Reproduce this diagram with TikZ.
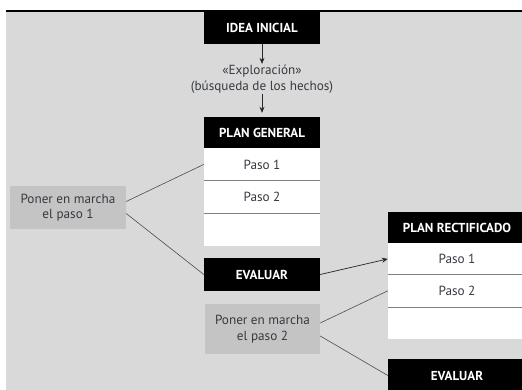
\documentclass[tikz,border=0pt]{standalone}
\usepackage{fontspec}
\setmainfont{PT Sans}
\usetikzlibrary{positioning, arrows.meta}
\definecolor{bgcolor}{HTML}{D9D9D9}
\definecolor{actcolor}{HTML}{C4C4C4}
\definecolor{txtcolor}{HTML}{353A40}
\definecolor{sepcolor}{HTML}{808080}

\begin{document}
\begin{tikzpicture}[
    x=1pt, y=-1pt,
    align=center,
    font=\fontsize{13.2}{15.5}\selectfont,
    header/.style={fill=black, text=white, font=\fontsize{13}{16}\selectfont\bfseries, minimum width=116pt, minimum height=32pt, inner sep=0pt},
    row/.style={fill=white, text=txtcolor, minimum width=116pt, minimum height=32pt, inner sep=0pt},
    action/.style={fill=actcolor, text=txtcolor, minimum width=116pt, minimum height=43pt, inner sep=0pt},
    arrow/.style={-{Stealth[length=6pt, width=5pt]}, draw=black!85, line width=0.7pt},
    line/.style={draw=black!70, line width=0.6pt},
    sep/.style={draw=sepcolor, line width=0.9pt}
]

    % =========================================================================
    % BACKGROUND
    % =========================================================================
    \useasboundingbox (0, 0) rectangle (522, 390);
    \fill [white] (0, 0) rectangle (522, 390);
    \fill [bgcolor] (6, 11) rectangle (522, 390);
    \draw [line width=2pt] (6, 11) -- (522, 11);

    % =========================================================================
    % GENERAL PLAN
    % =========================================================================
    \node (idea) [header, minimum height=33pt] at (262, 27.5) {IDEA INICIAL};
    \node (explor) [text=txtcolor, inner sep=1pt] at (262, 79) {«Exploración»\\(búsqueda de los hechos)};

    \node (plan_gen) [header, minimum height=31pt] at (262, 132.5) {PLAN GENERAL};
    \node (gen_paso1) [row, below=0pt of plan_gen] {Paso 1};
    \node (gen_paso2) [row, below=0pt of gen_paso1] {Paso 2};
    \node (gen_blank) [row, minimum height=33pt, below=0pt of gen_paso2] {};
    \draw [sep] (gen_paso1.south west) -- (gen_paso1.south east);
    \draw [sep] (gen_paso2.south west) -- (gen_paso2.south east);

    \node (eval_gen) [header, minimum height=33pt] at (262, 274.5) {EVALUAR};
    \node (act_paso1) [action] at (68, 207.5) {Poner en marcha\\el paso 1};

    \draw [arrow] (idea) -- (explor);
    \draw [arrow, shorten >=4pt] (explor) -- (plan_gen);
    \draw [line] ([yshift=6pt]act_paso1.east) -- (gen_paso1.west);
    \draw [line] ([yshift=-6pt]act_paso1.east) -- (eval_gen.west);

    % =========================================================================
    % RECTIFIED PLAN
    % =========================================================================
    \node (plan_rect) [header, minimum width=138pt, minimum height=31pt] at (457, 227.5) {PLAN RECTIFICADO};
    \node (rect_paso1) [row, minimum width=138pt, minimum height=31pt, below=0pt of plan_rect] {Paso 1};
    \node (rect_paso2) [row, minimum width=138pt, minimum height=32pt, below=0pt of rect_paso1] {Paso 2};
    \node (rect_blank) [row, minimum width=138pt, minimum height=32pt, below=0pt of rect_paso2] {};
    \draw [sep] (rect_paso1.south west) -- (rect_paso1.south east);
    \draw [sep] (rect_paso2.south west) -- (rect_paso2.south east);

    \node (eval_rect) [header, minimum width=138pt, minimum height=33pt] at (457, 375.5) {EVALUAR};
    \node (act_paso2) [action, minimum width=115pt, minimum height=50pt] at (262.5, 329) {Poner en marcha\\el paso 2};

    \draw [arrow] (eval_gen.east) -- (rect_paso1.west);
    \draw [line] ([yshift=6pt]act_paso2.east) -- (rect_paso2.west);
    \draw [line] ([yshift=-7pt]act_paso2.east) -- (eval_rect.west);

\end{tikzpicture}
\end{document}
